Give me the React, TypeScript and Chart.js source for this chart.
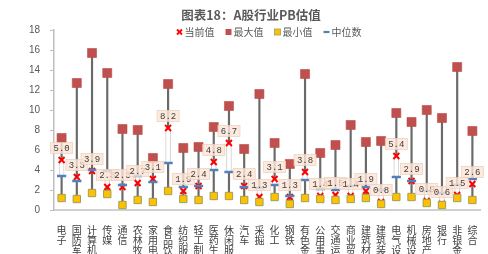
import React, { useEffect, useRef } from 'react';
import { Chart, registerables } from 'chart.js';

Chart.register(...registerables);

const categories = ['电子', '国防军工', '计算机', '传媒', '通信', '农林牧渔', '家用电器', '食品饮料', '纺织服装', '轻工制造', '医药生物', '休闲服务', '汽车', '采掘', '化工', '钢铁', '有色金属', '公用事业', '交通运输', '商业贸易', '建筑材料', '建筑装饰', '电气设备', '机械设备', '房地产', '银行', '非银金融', '综合'];
const currentValues = [5.0, 3.3, 3.9, 2.3, 2.3, 2.7, 3.1, 8.2, 1.9, 2.4, 4.8, 6.7, 2.4, 1.3, 3.1, 1.3, 3.8, 1.4, 1.5, 1.4, 1.9, 0.8, 5.4, 2.9, 0.9, 0.6, 1.5, 2.6];
const maxValues = [7.2, 12.7, 15.7, 13.7, 8.1, 8.0, 5.2, 12.6, 6.2, 6.3, 8.3, 10.4, 6.1, 11.6, 6.7, 4.6, 13.6, 5.7, 6.5, 8.5, 6.8, 6.9, 9.7, 8.8, 10.0, 9.2, 14.3, 7.9];
const minValues = [1.2, 1.1, 1.7, 1.6, 0.5, 1.0, 0.8, 1.9, 1.1, 1.0, 1.4, 1.4, 1.0, 0.8, 1.3, 0.6, 1.2, 1.1, 1.0, 1.1, 1.2, 0.6, 1.3, 1.3, 0.7, 0.5, 1.2, 1.0];
const medianValues = [3.4, 2.9, 4.0, 3.9, 2.5, 3.4, 2.8, 4.7, 2.3, 2.4, 4.0, 3.8, 2.3, 2.2, 2.5, 1.4, 3.0, 2.1, 2.0, 2.4, 2.3, 2.0, 3.3, 2.9, 1.9, 1.7, 2.5, 3.1];
const yTicks = [0, 2, 4, 6, 8, 10, 12, 14, 16, 18];
const titleText = '图表18：A股行业PB估值';
const legendLabels = ['当前值', '最大值', '最小值', '中位数'];

const RED = '#FF0000';
const MAXC = '#C0504D';
const MINC = '#FFC000';
const MINB = '#9BA05A';
const MEDC = '#4F81BD';
const TXT = '#595959';
const CJK = '"Noto Sans CJK SC", "Noto Sans", sans-serif';

const overlayPlugin = {
  id: 'overlay',
  afterDatasetsDraw(chart: any) {
    const ctx = chart.ctx;
    const meta = chart.getDatasetMeta(3);
    ctx.save();
    ctx.font = '9px "Liberation Mono", "DejaVu Sans Mono", monospace';
    ctx.textAlign = 'center';
    ctx.textBaseline = 'middle';
    meta.data.forEach((pt: any, i: number) => {
      const text = currentValues[i].toFixed(1);
      const w = 22;
      const h = 11;
      const cx = pt.x;
      const cy = pt.y - 12;
      ctx.fillStyle = 'rgba(252,228,214,0.82)';
      ctx.fillRect(cx - w / 2, cy - h / 2, w, h);
      ctx.strokeStyle = 'rgba(236,208,188,0.9)';
      ctx.lineWidth = 0.8;
      ctx.strokeRect(cx - w / 2, cy - h / 2, w, h);
      ctx.fillStyle = '#404040';
      ctx.fillText(text, cx, cy + 0.5);
    });
    ctx.restore();
  },
  afterDraw(chart: any) {
    const ctx = chart.ctx;
    const area = chart.chartArea;
    ctx.save();
    // title
    ctx.font = 'bold 12.5px ' + CJK;
    ctx.fillStyle = TXT;
    ctx.textAlign = 'center';
    ctx.textBaseline = 'middle';
    ctx.fillText(titleText, 251, 15);
    // legend
    ctx.font = '10px ' + CJK;
    const markerW = 6;
    const gap = 2;
    const spacing = 11;
    const widths = legendLabels.map((l) => markerW + gap + ctx.measureText(l).width);
    const total = widths.reduce((a, b) => a + b, 0) + spacing * (legendLabels.length - 1);
    let x = (area.left + area.right) / 2 + 2 - total / 2;
    const y = 32;
    legendLabels.forEach((label, i) => {
      const mx = x + markerW / 2;
      if (i === 0) {
        ctx.strokeStyle = RED;
        ctx.lineWidth = 1.8;
        ctx.beginPath();
        ctx.moveTo(mx - 2.5, y - 2.5);
        ctx.lineTo(mx + 2.5, y + 2.5);
        ctx.moveTo(mx + 2.5, y - 2.5);
        ctx.lineTo(mx - 2.5, y + 2.5);
        ctx.stroke();
      } else if (i === 1) {
        ctx.fillStyle = MAXC;
        ctx.fillRect(mx - 3, y - 3, 6, 6);
      } else if (i === 2) {
        ctx.fillStyle = MINC;
        ctx.fillRect(mx - 3, y - 3, 6, 6);
        ctx.strokeStyle = MINB;
        ctx.lineWidth = 0.8;
        ctx.strokeRect(mx - 3, y - 3, 6, 6);
      } else {
        ctx.strokeStyle = MEDC;
        ctx.lineWidth = 2.2;
        ctx.beginPath();
        ctx.moveTo(mx - 3, y);
        ctx.lineTo(mx + 3, y);
        ctx.stroke();
      }
      ctx.fillStyle = TXT;
      ctx.textAlign = 'left';
      ctx.fillText(label, x + markerW + gap, y);
      x += widths[i] + spacing;
    });
    ctx.restore();
  },
};

export default function App() {
  const ref = useRef<HTMLCanvasElement>(null);
  useEffect(() => {
    const pointLine = (extra: any) => ({ type: 'line', showLine: false, ...extra });
    const chart = new Chart(ref.current as HTMLCanvasElement, {
      type: 'bar',
      data: {
        labels: categories.map((c) => c.split('')),
        datasets: [
          pointLine({
            label: legendLabels[3],
            data: medianValues,
            pointStyle: 'line',
            pointRadius: 4.6,
            pointBorderColor: MEDC,
            pointBackgroundColor: MEDC,
            pointBorderWidth: 2.5,
            borderColor: MEDC,
          }),
          pointLine({
            label: legendLabels[2],
            data: minValues,
            pointStyle: 'rect',
            pointRadius: 5.2,
            pointBackgroundColor: MINC,
            pointBorderColor: MINB,
            pointBorderWidth: 1,
            borderColor: MINB,
          }),
          pointLine({
            label: legendLabels[1],
            data: maxValues,
            pointStyle: 'rect',
            pointRadius: 6.4,
            pointBackgroundColor: MAXC,
            pointBorderColor: '#B84C49',
            pointBorderWidth: 0.6,
            borderColor: MAXC,
          }),
          pointLine({
            label: legendLabels[0],
            data: currentValues,
            pointStyle: 'crossRot',
            pointRadius: 4.2,
            pointBorderColor: RED,
            pointBackgroundColor: RED,
            pointBorderWidth: 2,
            borderColor: RED,
          }),
          {
            type: 'bar',
            label: 'updown',
            data: categories.map((_, i) => [currentValues[i], medianValues[i]]),
            backgroundColor: '#FFFFFF',
            borderColor: '#D0D0D0',
            borderWidth: 1,
            borderSkipped: false,
            barThickness: 5,
            grouped: false,
          },
          {
            type: 'bar',
            label: 'hilo',
            data: categories.map((_, i) => [minValues[i], maxValues[i]]),
            backgroundColor: '#6A6A6A',
            borderWidth: 0,
            barThickness: 1.5,
            grouped: false,
          },
        ] as any,
      },
      options: {
        responsive: false,
        devicePixelRatio: 1,
        animation: false,
        events: [],
        layout: { padding: { top: 30, right: 8, left: 0, bottom: 0 } },
        plugins: {
          legend: { display: false },
          title: { display: false },
          tooltip: { enabled: false },
        },
        scales: {
          x: {
            offset: true,
            grid: { display: false },
            border: { display: true, color: '#D0D0D0', width: 2 },
            ticks: {
              autoSkip: false,
              maxRotation: 0,
              minRotation: 0,
              padding: 7,
              color: '#404040',
              font: { family: CJK, size: 10, lineHeight: 1 },
            },
            afterFit: (s: any) => {
              s.height = 44;
            },
          },
          y: {
            min: 0,
            max: 18,
            afterBuildTicks: (s: any) => {
              s.ticks = yTicks.map((v) => ({ value: v }));
            },
            grid: { drawOnChartArea: false, drawTicks: true, tickLength: 4, color: '#BFBFBF' },
            border: { display: true, color: '#BFBFBF', width: 1.5 },
            ticks: {
              padding: 10,
              color: TXT,
              font: { family: '"Liberation Sans", Arial, sans-serif', size: 10 },
            },
            afterFit: (s: any) => {
              s.width = 54;
            },
          },
        },
      },
      plugins: [overlayPlugin],
    } as any);
    return () => chart.destroy();
  }, []);
  return (
    <div style={{ position: 'fixed', left: 0, top: 0, width: 488, height: 254, background: '#fff' }}>
      <canvas ref={ref} width={488} height={254} style={{ display: 'block', width: 488, height: 254 }} />
    </div>
  );
}
